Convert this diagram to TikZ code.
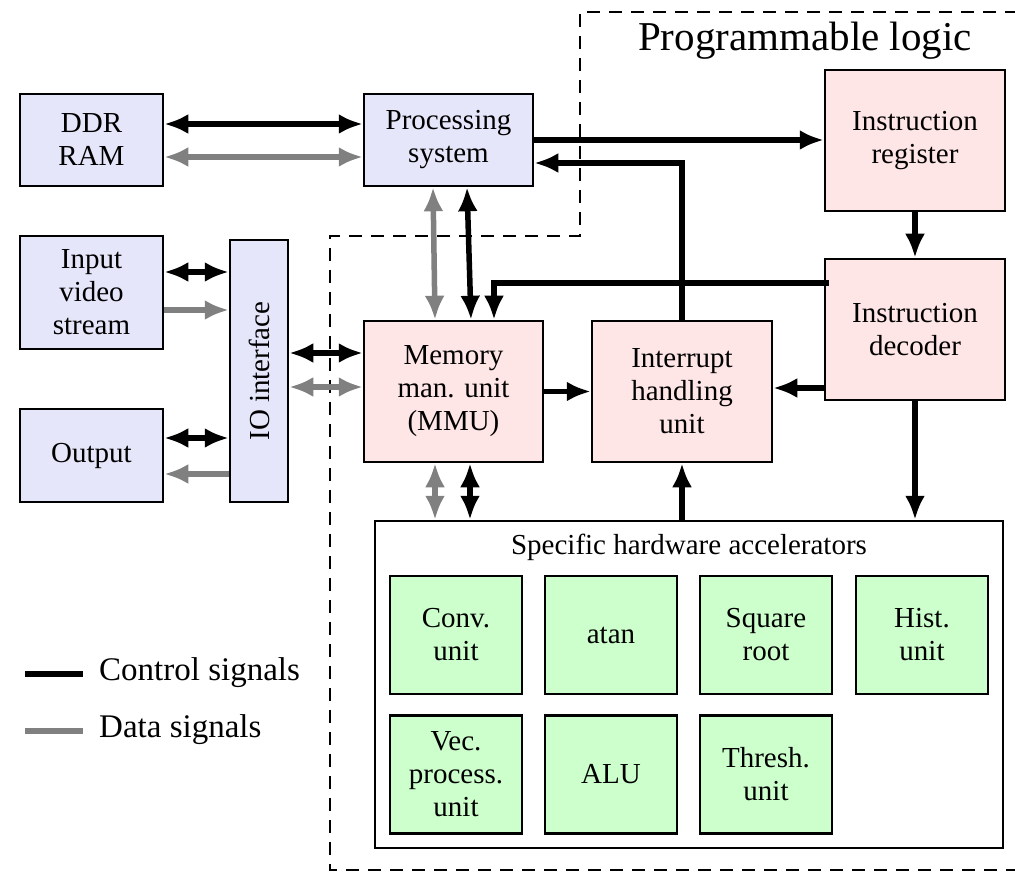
\documentclass[tikz,border=0pt]{standalone}
\usepackage{fontspec}
\setmainfont{Liberation Serif}
\usetikzlibrary{arrows.meta}
\definecolor{psblue}{RGB}{230,230,250}
\definecolor{plred}{RGB}{255,230,230}
\definecolor{accgreen}{RGB}{204,255,204}
\definecolor{datagray}{RGB}{128,128,128}
\tikzset{
  box/.style={draw=black, line width=2.5pt, align=center, inner sep=2pt,
    font=\fontsize{29}{33}\selectfont},
  psbox/.style={box, fill=psblue},
  plbox/.style={box, fill=plred},
  accbox/.style={box, fill=accgreen, minimum width=132pt, minimum height=118pt},
  ctrl/.style={line width=5.5pt, black},
  data/.style={line width=5.5pt, datagray},
  tip/.style={-{Latex[length=24pt,width=20pt]}},
  tips/.style={{Latex[length=24pt,width=20pt]}-{Latex[length=24pt,width=20pt]}},
  region/.style={line width=2pt, dash pattern=on 13pt off 9pt},
  legendtext/.style={anchor=west, inner sep=0pt, font=\fontsize{33}{38}\selectfont}
}
\begin{document}
\begin{tikzpicture}[x=1pt, y=-1pt]
\useasboundingbox (0,0) rectangle (1015,874);

% programmable logic region
\draw[region] (1040,12) -- (580,12) -- (580,236) -- (330,236) -- (330,870) -- (1040,870);
\node[font=\fontsize{41}{46}\selectfont] (pltitle) at (805,41) {Programmable logic};

% processing side
\node[psbox, minimum width=143pt, minimum height=92pt] (ddr) at (91.5,140) {DDR\\RAM};
\node[psbox, minimum width=169pt, minimum height=92pt] (ps) at (448.5,140) {Processing\\system};
\node[psbox, minimum width=143pt, minimum height=113pt] (inp) at (91.5,292.5) {Input\\video\\stream};
\node[psbox, minimum width=143pt, minimum height=93pt] (out) at (91.5,455.5) {Output};
\node[psbox, minimum width=58pt, minimum height=262pt] (io) at (259,371) {\rotatebox{90}{IO interface}};

% logic blocks
\node[plbox, minimum width=179pt, minimum height=141pt] (mmu) at (453.5,391.5) {Memory\\man. unit\\(MMU)};
\node[plbox, minimum width=180pt, minimum height=141pt] (irq) at (682,391.5) {Interrupt\\handling\\unit};
\node[plbox, minimum width=180pt, minimum height=141pt] (ireg) at (915,140.5) {Instruction\\register};
\node[plbox, minimum width=180pt, minimum height=141pt] (idec) at (915,329.5) {Instruction\\decoder};

% accelerators
\node[box, fill=white, minimum width=628pt, minimum height=327pt] (acc) at (689,684.5) {};
\node[font=\fontsize{29}{33}\selectfont] (acctitle) at (689,547) {Specific hardware accelerators};
\node[accbox] (conv) at (456,635) {Conv.\\unit};
\node[accbox] (atan) at (611,635) {atan};
\node[accbox] (sqrt) at (766,635) {Square\\root};
\node[accbox] (hist) at (922,635) {Hist.\\unit};
\node[accbox] (vec) at (456,774.5) {Vec.\\process.\\unit};
\node[accbox] (alu) at (611,774.5) {ALU};
\node[accbox] (thr) at (766,774.5) {Thresh.\\unit};

% helper points on the block borders
\path ([yshift=16]ddr.east) coordinate (ddrc) ([yshift=-17]ddr.east) coordinate (ddrd);
\path ([yshift=-23]ps.east) coordinate (psin);
\path ([xshift=-15.5]ps.south) coordinate (psd) ([xshift=18.5]ps.south) coordinate (psc);
\path ([xshift=-18.5]mmu.north) coordinate (mmud) ([xshift=17.5]mmu.north) coordinate (mmuc);
\path ([xshift=40.5]mmu.north) coordinate (mmudec);
\path ([xshift=5,yshift=46.5]idec.west) coordinate (decout);
\path ([yshift=-58.5]idec.west) coordinate (decirq);
\path ([yshift=38.5]mmu.west) coordinate (mioc) ([yshift=4.5]mmu.west) coordinate (miod);
\path ([xshift=-18.5]mmu.south) coordinate (mad) ([xshift=16.5]mmu.south) coordinate (mac);
\path ([yshift=20.5]inp.east) coordinate (inc) ([yshift=-17.5]inp.east) coordinate (ind);
\path ([yshift=17.5]out.east) coordinate (outc) ([yshift=-18.5]out.east) coordinate (outd);

% memory interface
\draw[ctrl, tips] (ddrc) -- (ddrc -| ps.west);
\draw[data, tips] (ddrd) -- (ddrd -| ps.west);

% control flow
\draw[ctrl, tip] (ps.east) -- (ps.east -| ireg.west);
\draw[ctrl, tip] (irq.north) |- (psin);
\draw[ctrl, tip] (ireg.south) -- (idec.north);
\draw[ctrl, tip] (decout) -| (mmudec);
\draw[ctrl, tip] (decirq) -- (decirq -| irq.east);
\draw[ctrl, tip] (idec.south) -- (idec.south |- acc.north);
\draw[ctrl, tip] (mmu.east) -- (irq.west);
\draw[ctrl, tip] (irq.south |- acc.north) -- (irq.south);

% processing system <-> MMU
\draw[data, tips] (psd) -- (mmud);
\draw[ctrl, tips] (psc) -- (mmuc);

% IO interface
\draw[ctrl, tips] (io.east |- mioc) -- (mioc);
\draw[data, tips] (io.east |- miod) -- (miod);
\draw[ctrl, tips] (inc) -- (inc -| io.west);
\draw[data, tip] (ind) -- (ind -| io.west);
\draw[ctrl, tips] (outc) -- (outc -| io.west);
\draw[data, tip] (outd -| io.west) -- (outd);

% MMU <-> accelerators
\draw[data, tips] (mad) -- (mad |- acc.north);
\draw[ctrl, tips] (mac) -- (mac |- acc.north);

% legend
\coordinate (lc1) at (25,674);
\coordinate (lc2) at (83,674);
\coordinate (ld1) at (25,731);
\coordinate (ld2) at (83,731);
\draw[ctrl] (lc1) -- (lc2);
\draw[data] (ld1) -- (ld2);
\node[legendtext] (lgc) at (99,673) {Control signals};
\node[legendtext] (lgd) at (99,730) {Data signals};
\end{tikzpicture}
\end{document}
